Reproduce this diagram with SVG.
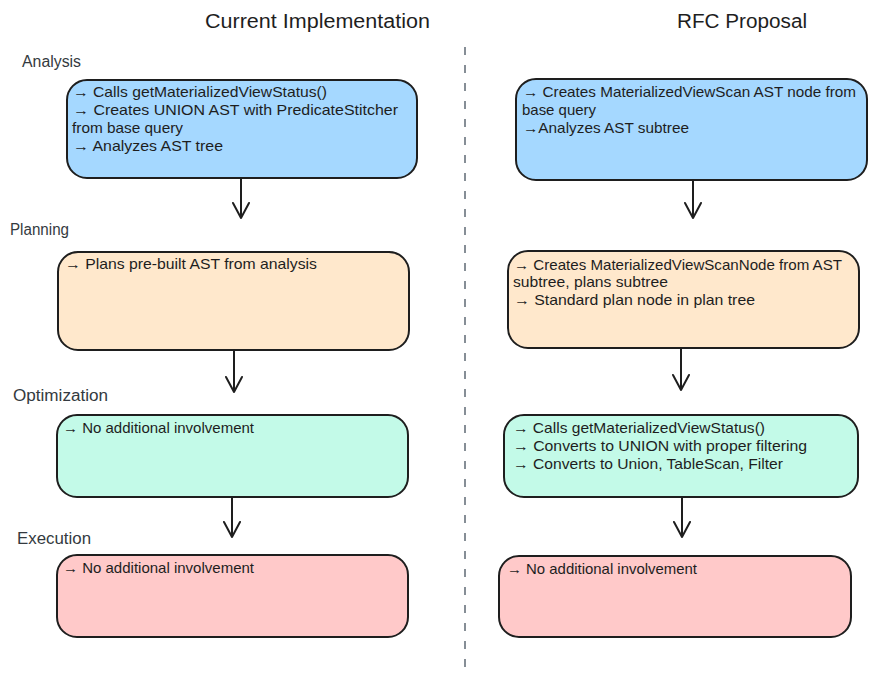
<svg xmlns="http://www.w3.org/2000/svg" width="876" height="688" viewBox="0 0 876 688">
<style>
.box{stroke:#1e1e1e;stroke-width:2}
.blue{fill:#a5d8ff}.orange{fill:#ffe8cc}.green{fill:#c3fae8}.red{fill:#ffc9c9}
.t{font-family:"Liberation Sans","DejaVu Sans",sans-serif;font-size:14.5px;fill:#1e1e1e}
.title{font-family:"Liberation Sans","DejaVu Sans",sans-serif;font-size:20px;fill:#1e1e1e}
.lbl{font-family:"Liberation Sans","DejaVu Sans",sans-serif;font-size:16px;fill:#343a40}
.conn{stroke:#1e1e1e;stroke-width:2;fill:none;stroke-linecap:round;stroke-linejoin:round}
</style>
<rect width="876" height="688" fill="#ffffff"/>
<g id="titles">
<text class="title" x="205" y="28" textLength="225" lengthAdjust="spacingAndGlyphs">Current Implementation</text>
<text class="title" x="677" y="28" textLength="130" lengthAdjust="spacingAndGlyphs">RFC Proposal</text>
</g>
<g id="stage-labels">
<text class="lbl" x="22" y="67" textLength="59" lengthAdjust="spacingAndGlyphs">Analysis</text>
<text class="lbl" x="10" y="235" textLength="59" lengthAdjust="spacingAndGlyphs">Planning</text>
<text class="lbl" x="13" y="401" textLength="95" lengthAdjust="spacingAndGlyphs">Optimization</text>
<text class="lbl" x="17" y="544" textLength="74" lengthAdjust="spacingAndGlyphs">Execution</text>
</g>
<g id="divider">
<line x1="465" y1="47" x2="465" y2="670" stroke="#868e96" stroke-width="2" stroke-dasharray="8 10"/>
</g>
<g id="cur-analysis">
<rect class="box blue" x="67" y="80" width="350" height="98" rx="20"/>
<text class="t" x="73" y="97" textLength="254" lengthAdjust="spacingAndGlyphs">→ Calls getMaterializedViewStatus()</text>
<text class="t" x="73" y="115" textLength="325" lengthAdjust="spacingAndGlyphs">→ Creates UNION AST with PredicateStitcher</text>
<text class="t" x="72" y="133" textLength="111" lengthAdjust="spacingAndGlyphs">from base query</text>
<text class="t" x="73" y="151" textLength="150" lengthAdjust="spacingAndGlyphs">→ Analyzes AST tree</text>
</g>
<g id="cur-planning">
<rect class="box orange" x="58" y="252" width="351" height="98" rx="20"/>
<text class="t" x="65" y="269" textLength="252" lengthAdjust="spacingAndGlyphs">→ Plans pre-built AST from analysis</text>
</g>
<g id="cur-optimization">
<rect class="box green" x="57" y="415" width="351" height="82" rx="20"/>
<text class="t" x="63" y="433" textLength="191" lengthAdjust="spacingAndGlyphs">→ No additional involvement</text>
</g>
<g id="cur-execution">
<rect class="box red" x="57" y="555" width="351" height="82" rx="20"/>
<text class="t" x="63" y="573" textLength="191" lengthAdjust="spacingAndGlyphs">→ No additional involvement</text>
</g>
<g id="rfc-analysis">
<rect class="box blue" x="516" y="79" width="351" height="101" rx="20"/>
<text class="t" x="523" y="97" textLength="333" lengthAdjust="spacingAndGlyphs">→ Creates MaterializedViewScan AST node from</text>
<text class="t" x="522" y="115" textLength="74" lengthAdjust="spacingAndGlyphs">base query</text>
<text class="t" x="523" y="133" textLength="166" lengthAdjust="spacingAndGlyphs">→Analyzes AST subtree</text>
</g>
<g id="rfc-planning">
<rect class="box orange" x="508" y="251" width="351" height="97" rx="20"/>
<text class="t" x="514" y="270" textLength="328" lengthAdjust="spacingAndGlyphs">→ Creates MaterializedViewScanNode from AST</text>
<text class="t" x="513" y="287" textLength="155" lengthAdjust="spacingAndGlyphs">subtree, plans subtree</text>
<text class="t" x="514" y="305" textLength="241" lengthAdjust="spacingAndGlyphs">→ Standard plan node in plan tree</text>
</g>
<g id="rfc-optimization">
<rect class="box green" x="504" y="415" width="354" height="82" rx="20"/>
<text class="t" x="513" y="433" textLength="252" lengthAdjust="spacingAndGlyphs">→ Calls getMaterializedViewStatus()</text>
<text class="t" x="513" y="451" textLength="294" lengthAdjust="spacingAndGlyphs">→ Converts to UNION with proper filtering</text>
<text class="t" x="513" y="469" textLength="270" lengthAdjust="spacingAndGlyphs">→ Converts to Union, TableScan, Filter</text>
</g>
<g id="rfc-execution">
<rect class="box red" x="499" y="556" width="352" height="81" rx="20"/>
<text class="t" x="507" y="574" textLength="190" lengthAdjust="spacingAndGlyphs">→ No additional involvement</text>
</g>
<g id="connectors">
<path class="conn" d="M241 178 V218 M233 203 L241 218 L249 203"/>
<path class="conn" d="M234 350 V392 M226 377 L234 392 L242 377"/>
<path class="conn" d="M232 497 V537 M224 522 L232 537 L240 522"/>
<path class="conn" d="M693 180 V218 M685 203 L693 218 L701 203"/>
<path class="conn" d="M681 348 V390 M673 375 L681 390 L689 375"/>
<path class="conn" d="M682 497 V537 M674 522 L682 537 L690 522"/>
</g>
</svg>
